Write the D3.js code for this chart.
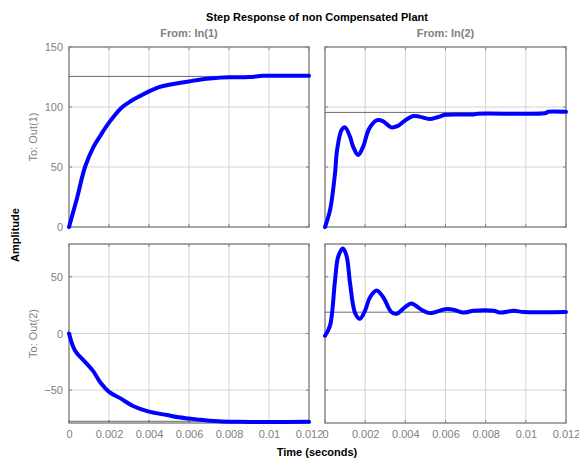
<!DOCTYPE html>
<html>
<head>
<meta charset="utf-8">
<script src="https://cdn.jsdelivr.net/npm/d3@7"></script>
<style>
  body { margin: 0; background: #fff; }
  text { font-family: "Liberation Sans", Arial, sans-serif; }
</style>
</head>
<body>
<div id="chart-area"></div>
<script>
let width = 579,
    height = 459;

// tick values / labels
let xTicks = [0, 0.002, 0.004, 0.006, 0.008, 0.01, 0.012];
let xTickLabels = ["0", "0.002", "0.004", "0.006", "0.008", "0.01", "0.012"];
let yTicksTop = [0, 50, 100, 150];
let yTicksBottom = [-50, 0, 50];

// From In(1) -> Out(1)
let t11 = [0, 0.0002, 0.0004, 0.0008, 0.0012, 0.0016, 0.002, 0.0026, 0.0031, 0.0036, 0.004, 0.0045, 0.005, 0.0055, 0.006, 0.0066, 0.0072, 0.008, 0.009, 0.0097, 0.0105, 0.012];
let y11 = [0, 12, 24, 50, 66, 77, 87, 99, 105, 109.5, 113, 116.5, 118.6, 120, 121.3, 123, 124, 124.7, 125, 126, 126, 126];

// From In(2) -> Out(1)
let t12 = [0, 0.00025, 0.0005, 0.0006, 0.00083, 0.001, 0.00125, 0.0014, 0.00165, 0.0019, 0.0022, 0.0026, 0.0029, 0.0033, 0.0036, 0.004, 0.0044, 0.0047, 0.0052, 0.0056, 0.006, 0.0074, 0.0076, 0.011, 0.0111, 0.012];
let y12 = [0, 14, 45, 64, 81, 83, 75, 67, 60, 67, 82, 89, 88, 83, 84, 89, 92.5, 92, 90, 91.5, 93.5, 93.8, 94.4, 95, 96, 96];

// From In(1) -> Out(2)
let t21 = [0, 0.0003, 0.0008, 0.0012, 0.0016, 0.002, 0.0026, 0.0032, 0.004, 0.0049, 0.0055, 0.006, 0.0064, 0.007, 0.0085, 0.012];
let y21 = [0, -15, -25, -33, -44, -51.5, -57.5, -64, -69, -72, -74, -75, -75.8, -77, -78, -78];

// From In(2) -> Out(2)
let t22 = [0, 0.00025, 0.0005, 0.00066, 0.0009, 0.00108, 0.00125, 0.0015, 0.00174, 0.002, 0.00224, 0.00257, 0.0029, 0.0033, 0.00357, 0.004, 0.0043, 0.0048, 0.0052, 0.006, 0.0064, 0.0069, 0.0074, 0.0084, 0.0087, 0.0094, 0.0099, 0.012];
let y22 = [-2, 7, 47, 68, 75, 68, 44, 18, 13, 20.5, 32, 38, 32, 19, 17.5, 23.5, 26.5, 21, 18, 21.5, 21, 18.5, 20, 20, 18.5, 20, 19, 19];

// steady state values
let steady = [125.5, 95.5, -77.5, 18.8];

let svg = d3.select("#chart-area").append("svg")
    .attr("width", width)
    .attr("height", height);

let cols = [[69, 309], [325, 566]];
let rows = [[47, 227], [244, 423]];
let yDomains = [[0, 150], [-79, 79]];
let yTickSets = [yTicksTop, yTicksBottom];

let panels = [
  {r: 0, c: 0, t: t11, v: y11, s: steady[0]},
  {r: 0, c: 1, t: t12, v: y12, s: steady[1]},
  {r: 1, c: 0, t: t21, v: y21, s: steady[2]},
  {r: 1, c: 1, t: t22, v: y22, s: steady[3]}
];

let grey = "#808080";

panels.forEach(function(p) {
  let x = d3.scaleLinear().domain([0, 0.012]).range(cols[p.c]);
  let y = d3.scaleLinear().domain(yDomains[p.r]).range([rows[p.r][1], rows[p.r][0]]);
  let g = svg.append("g");
  let yt = yTickSets[p.r];

  // grid
  g.selectAll(".gx").data(xTicks.slice(1, -1)).enter().append("line")
    .attr("x1", d => x(d)).attr("x2", d => x(d))
    .attr("y1", y.range()[0]).attr("y2", y.range()[1])
    .attr("stroke", "#d4d4d4").attr("stroke-width", 1);
  g.selectAll(".gy").data(yt.filter(d => d > y.domain()[0] && d < y.domain()[1])).enter().append("line")
    .attr("x1", x.range()[0]).attr("x2", x.range()[1])
    .attr("y1", d => y(d)).attr("y2", d => y(d))
    .attr("stroke", "#d4d4d4").attr("stroke-width", 1);

  // inner tick marks
  xTicks.forEach(function(d) {
    g.append("line").attr("x1", x(d)).attr("x2", x(d))
      .attr("y1", y.range()[0]).attr("y2", y.range()[0] - 3).attr("stroke", grey);
    g.append("line").attr("x1", x(d)).attr("x2", x(d))
      .attr("y1", y.range()[1]).attr("y2", y.range()[1] + 3).attr("stroke", grey);
  });
  yt.forEach(function(d) {
    g.append("line").attr("x1", x.range()[0]).attr("x2", x.range()[0] + 3)
      .attr("y1", y(d)).attr("y2", y(d)).attr("stroke", grey);
    g.append("line").attr("x1", x.range()[1]).attr("x2", x.range()[1] - 3)
      .attr("y1", y(d)).attr("y2", y(d)).attr("stroke", grey);
  });

  // box
  g.append("rect")
    .attr("x", x.range()[0]).attr("y", y.range()[1])
    .attr("width", x.range()[1] - x.range()[0])
    .attr("height", y.range()[0] - y.range()[1])
    .attr("fill", "none").attr("stroke", grey).attr("stroke-width", 1.4);

  // steady-state line
  g.append("line")
    .attr("x1", x.range()[0]).attr("x2", x.range()[1])
    .attr("y1", y(p.s)).attr("y2", y(p.s))
    .attr("stroke", "#444").attr("stroke-width", 0.8);

  // response
  let pts = p.t.map((d, i) => [d, p.v[i]]);
  let line = d3.line().x(d => x(d[0])).y(d => y(d[1])).curve(d3.curveCatmullRom.alpha(0.5));
  g.append("path").datum(pts)
    .attr("d", line)
    .attr("fill", "none")
    .attr("stroke", "#0000ff")
    .attr("stroke-width", 4)
    .attr("stroke-linejoin", "round")
    .attr("stroke-linecap", "round");

  // y tick labels (left column only)
  if (p.c === 0) {
    let ya = d3.axisLeft(y).tickValues(yt).tickSize(0).tickPadding(6).tickFormat(d3.format("d"));
    let ag = svg.append("g").attr("transform", "translate(" + x.range()[0] + ",0)").call(ya);
    ag.select(".domain").remove();
    ag.selectAll("text").attr("fill", grey).attr("font-size", 11)
      .style("font-family", "'Liberation Sans', Arial, sans-serif");
  }
  // x tick labels (bottom row only)
  if (p.r === 1) {
    let xa = d3.axisBottom(x).tickValues(xTicks).tickSize(0).tickPadding(7)
      .tickFormat((d, i) => xTickLabels[i]);
    let ag = svg.append("g").attr("transform", "translate(0," + y.range()[0] + ")").call(xa);
    ag.select(".domain").remove();
    ag.selectAll("text").attr("fill", grey).attr("font-size", 11)
      .style("font-family", "'Liberation Sans', Arial, sans-serif");
  }
});

// titles
svg.append("text").attr("x", 317).attr("y", 21).attr("text-anchor", "middle")
  .attr("font-size", 11).attr("font-weight", "bold").attr("fill", "#000")
  .text("Step Response of non Compensated Plant");

let fromLabels = ["From: In(1)", "From: In(2)"];
fromLabels.forEach(function(s, i) {
  svg.append("text").attr("x", (cols[i][0] + cols[i][1]) / 2).attr("y", 37)
    .attr("text-anchor", "middle").attr("font-size", 11).attr("font-weight", "bold")
    .attr("fill", grey).text(s);
});

let toLabels = ["To: Out(1)", "To: Out(2)"];
toLabels.forEach(function(s, i) {
  let cy = (rows[i][0] + rows[i][1]) / 2;
  svg.append("text").attr("transform", "translate(37," + cy + ") rotate(-90)")
    .attr("text-anchor", "middle").attr("font-size", 11)
    .attr("fill", grey).text(s);
});

svg.append("text").attr("transform", "translate(19,235) rotate(-90)")
  .attr("text-anchor", "middle").attr("font-size", 11).attr("font-weight", "bold")
  .attr("fill", "#000").text("Amplitude");

svg.append("text").attr("x", 317).attr("y", 456).attr("text-anchor", "middle")
  .attr("font-size", 11).attr("font-weight", "bold").attr("fill", "#000")
  .text("Time (seconds)");
</script>
</body>
</html>
